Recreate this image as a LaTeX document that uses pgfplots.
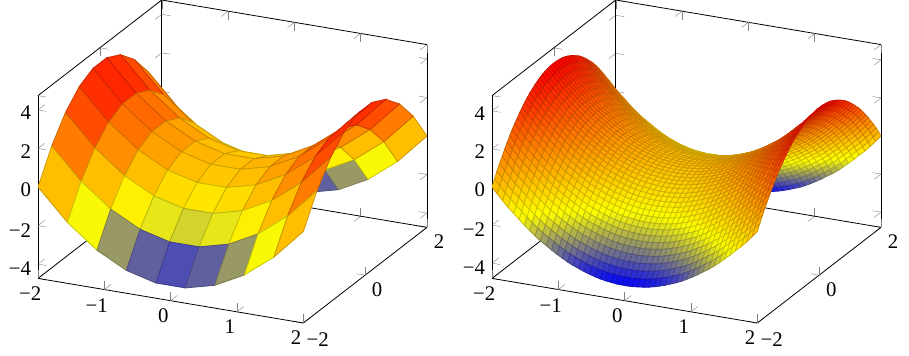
\documentclass[border=0pt]{standalone}
\usepackage{pgfplots}
\usepackage{fontspec}
\setmainfont{Liberation Serif}
\pgfplotsset{compat=1.18}
\pgfplotstableread{
x y z
-2 -2 0
-1.556 -2 -1.58
-1.111 -2 -2.765
-0.667 -2 -3.556
-0.222 -2 -3.951
0.222 -2 -3.951
0.667 -2 -3.556
1.111 -2 -2.765
1.556 -2 -1.58
2 -2 0
-2 -1.556 1.58
-1.556 -1.556 0
-1.111 -1.556 -1.185
-0.667 -1.556 -1.976
-0.222 -1.556 -2.371
0.222 -1.556 -2.371
0.667 -1.556 -1.976
1.111 -1.556 -1.185
1.556 -1.556 0
2 -1.556 1.58
-2 -1.111 2.765
-1.556 -1.111 1.185
-1.111 -1.111 0
-0.667 -1.111 -0.791
-0.222 -1.111 -1.186
0.222 -1.111 -1.186
0.667 -1.111 -0.791
1.111 -1.111 0
1.556 -1.111 1.185
2 -1.111 2.765
-2 -0.667 3.556
-1.556 -0.667 1.976
-1.111 -0.667 0.791
-0.667 -0.667 0
-0.222 -0.667 -0.395
0.222 -0.667 -0.395
0.667 -0.667 0
1.111 -0.667 0.791
1.556 -0.667 1.976
2 -0.667 3.556
-2 -0.222 3.951
-1.556 -0.222 2.371
-1.111 -0.222 1.186
-0.667 -0.222 0.395
-0.222 -0.222 0
0.222 -0.222 0
0.667 -0.222 0.395
1.111 -0.222 1.186
1.556 -0.222 2.371
2 -0.222 3.951
-2 0.222 3.951
-1.556 0.222 2.371
-1.111 0.222 1.186
-0.667 0.222 0.395
-0.222 0.222 0
0.222 0.222 0
0.667 0.222 0.395
1.111 0.222 1.186
1.556 0.222 2.371
2 0.222 3.951
-2 0.667 3.556
-1.556 0.667 1.976
-1.111 0.667 0.791
-0.667 0.667 0
-0.222 0.667 -0.395
0.222 0.667 -0.395
0.667 0.667 0
1.111 0.667 0.791
1.556 0.667 1.976
2 0.667 3.556
-2 1.111 2.765
-1.556 1.111 1.185
-1.111 1.111 0
-0.667 1.111 -0.791
-0.222 1.111 -1.186
0.222 1.111 -1.186
0.667 1.111 -0.791
1.111 1.111 0
1.556 1.111 1.185
2 1.111 2.765
-2 1.556 1.58
-1.556 1.556 0
-1.111 1.556 -1.185
-0.667 1.556 -1.976
-0.222 1.556 -2.371
0.222 1.556 -2.371
0.667 1.556 -1.976
1.111 1.556 -1.185
1.556 1.556 0
2 1.556 1.58
-2 2 0
-1.556 2 -1.58
-1.111 2 -2.765
-0.667 2 -3.556
-0.222 2 -3.951
0.222 2 -3.951
0.667 2 -3.556
1.111 2 -2.765
1.556 2 -1.58
2 2 0
}\coarse
\pgfplotstableread{
x y z
-2 -2 0
-1.92 -2 -0.32
-1.84 -2 -0.63
-1.76 -2 -0.92
-1.67 -2 -1.2
-1.59 -2 -1.47
-1.51 -2 -1.72
-1.43 -2 -1.96
-1.35 -2 -2.19
-1.27 -2 -2.4
-1.18 -2 -2.6
-1.1 -2 -2.79
-1.02 -2 -2.96
-0.94 -2 -3.12
-0.86 -2 -3.27
-0.78 -2 -3.4
-0.69 -2 -3.52
-0.61 -2 -3.63
-0.53 -2 -3.72
-0.45 -2 -3.8
-0.37 -2 -3.87
-0.29 -2 -3.92
-0.2 -2 -3.96
-0.12 -2 -3.99
-0.04 -2 -4
0.04 -2 -4
0.12 -2 -3.99
0.2 -2 -3.96
0.29 -2 -3.92
0.37 -2 -3.87
0.45 -2 -3.8
0.53 -2 -3.72
0.61 -2 -3.63
0.69 -2 -3.52
0.78 -2 -3.4
0.86 -2 -3.27
0.94 -2 -3.12
1.02 -2 -2.96
1.1 -2 -2.79
1.18 -2 -2.6
1.27 -2 -2.4
1.35 -2 -2.19
1.43 -2 -1.96
1.51 -2 -1.72
1.59 -2 -1.47
1.67 -2 -1.2
1.76 -2 -0.92
1.84 -2 -0.63
1.92 -2 -0.32
2 -2 0
-2 -1.92 0.32
-1.92 -1.92 0
-1.84 -1.92 -0.31
-1.76 -1.92 -0.6
-1.67 -1.92 -0.88
-1.59 -1.92 -1.15
-1.51 -1.92 -1.4
-1.43 -1.92 -1.64
-1.35 -1.92 -1.87
-1.27 -1.92 -2.08
-1.18 -1.92 -2.28
-1.1 -1.92 -2.47
-1.02 -1.92 -2.64
-0.94 -1.92 -2.8
-0.86 -1.92 -2.95
-0.78 -1.92 -3.08
-0.69 -1.92 -3.2
-0.61 -1.92 -3.31
-0.53 -1.92 -3.4
-0.45 -1.92 -3.48
-0.37 -1.92 -3.55
-0.29 -1.92 -3.6
-0.2 -1.92 -3.64
-0.12 -1.92 -3.67
-0.04 -1.92 -3.68
0.04 -1.92 -3.68
0.12 -1.92 -3.67
0.2 -1.92 -3.64
0.29 -1.92 -3.6
0.37 -1.92 -3.55
0.45 -1.92 -3.48
0.53 -1.92 -3.4
0.61 -1.92 -3.31
0.69 -1.92 -3.2
0.78 -1.92 -3.08
0.86 -1.92 -2.95
0.94 -1.92 -2.8
1.02 -1.92 -2.64
1.1 -1.92 -2.47
1.18 -1.92 -2.28
1.27 -1.92 -2.08
1.35 -1.92 -1.87
1.43 -1.92 -1.64
1.51 -1.92 -1.4
1.59 -1.92 -1.15
1.67 -1.92 -0.88
1.76 -1.92 -0.6
1.84 -1.92 -0.31
1.92 -1.92 0
2 -1.92 0.32
-2 -1.84 0.63
-1.92 -1.84 0.31
-1.84 -1.84 0
-1.76 -1.84 -0.29
-1.67 -1.84 -0.57
-1.59 -1.84 -0.84
-1.51 -1.84 -1.09
-1.43 -1.84 -1.33
-1.35 -1.84 -1.56
-1.27 -1.84 -1.77
-1.18 -1.84 -1.97
-1.1 -1.84 -2.16
-1.02 -1.84 -2.33
-0.94 -1.84 -2.49
-0.86 -1.84 -2.64
-0.78 -1.84 -2.77
-0.69 -1.84 -2.89
-0.61 -1.84 -3
-0.53 -1.84 -3.09
-0.45 -1.84 -3.17
-0.37 -1.84 -3.24
-0.29 -1.84 -3.29
-0.2 -1.84 -3.33
-0.12 -1.84 -3.36
-0.04 -1.84 -3.37
0.04 -1.84 -3.37
0.12 -1.84 -3.36
0.2 -1.84 -3.33
0.29 -1.84 -3.29
0.37 -1.84 -3.24
0.45 -1.84 -3.17
0.53 -1.84 -3.09
0.61 -1.84 -3
0.69 -1.84 -2.89
0.78 -1.84 -2.77
0.86 -1.84 -2.64
0.94 -1.84 -2.49
1.02 -1.84 -2.33
1.1 -1.84 -2.16
1.18 -1.84 -1.97
1.27 -1.84 -1.77
1.35 -1.84 -1.56
1.43 -1.84 -1.33
1.51 -1.84 -1.09
1.59 -1.84 -0.84
1.67 -1.84 -0.57
1.76 -1.84 -0.29
1.84 -1.84 0
1.92 -1.84 0.31
2 -1.84 0.63
-2 -1.76 0.92
-1.92 -1.76 0.6
-1.84 -1.76 0.29
-1.76 -1.76 0
-1.67 -1.76 -0.28
-1.59 -1.76 -0.55
-1.51 -1.76 -0.8
-1.43 -1.76 -1.04
-1.35 -1.76 -1.27
-1.27 -1.76 -1.48
-1.18 -1.76 -1.68
-1.1 -1.76 -1.87
-1.02 -1.76 -2.04
-0.94 -1.76 -2.2
-0.86 -1.76 -2.35
-0.78 -1.76 -2.48
-0.69 -1.76 -2.6
-0.61 -1.76 -2.71
-0.53 -1.76 -2.8
-0.45 -1.76 -2.88
-0.37 -1.76 -2.95
-0.29 -1.76 -3
-0.2 -1.76 -3.04
-0.12 -1.76 -3.07
-0.04 -1.76 -3.08
0.04 -1.76 -3.08
0.12 -1.76 -3.07
0.2 -1.76 -3.04
0.29 -1.76 -3
0.37 -1.76 -2.95
0.45 -1.76 -2.88
0.53 -1.76 -2.8
0.61 -1.76 -2.71
0.69 -1.76 -2.6
0.78 -1.76 -2.48
0.86 -1.76 -2.35
0.94 -1.76 -2.2
1.02 -1.76 -2.04
1.1 -1.76 -1.87
1.18 -1.76 -1.68
1.27 -1.76 -1.48
1.35 -1.76 -1.27
1.43 -1.76 -1.04
1.51 -1.76 -0.8
1.59 -1.76 -0.55
1.67 -1.76 -0.28
1.76 -1.76 0
1.84 -1.76 0.29
1.92 -1.76 0.6
2 -1.76 0.92
-2 -1.67 1.2
-1.92 -1.67 0.88
-1.84 -1.67 0.57
-1.76 -1.67 0.28
-1.67 -1.67 0
-1.59 -1.67 -0.27
-1.51 -1.67 -0.52
-1.43 -1.67 -0.76
-1.35 -1.67 -0.99
-1.27 -1.67 -1.2
-1.18 -1.67 -1.4
-1.1 -1.67 -1.59
-1.02 -1.67 -1.76
-0.94 -1.67 -1.92
-0.86 -1.67 -2.07
-0.78 -1.67 -2.2
-0.69 -1.67 -2.32
-0.61 -1.67 -2.43
-0.53 -1.67 -2.52
-0.45 -1.67 -2.6
-0.37 -1.67 -2.67
-0.29 -1.67 -2.72
-0.2 -1.67 -2.76
-0.12 -1.67 -2.79
-0.04 -1.67 -2.8
0.04 -1.67 -2.8
0.12 -1.67 -2.79
0.2 -1.67 -2.76
0.29 -1.67 -2.72
0.37 -1.67 -2.67
0.45 -1.67 -2.6
0.53 -1.67 -2.52
0.61 -1.67 -2.43
0.69 -1.67 -2.32
0.78 -1.67 -2.2
0.86 -1.67 -2.07
0.94 -1.67 -1.92
1.02 -1.67 -1.76
1.1 -1.67 -1.59
1.18 -1.67 -1.4
1.27 -1.67 -1.2
1.35 -1.67 -0.99
1.43 -1.67 -0.76
1.51 -1.67 -0.52
1.59 -1.67 -0.27
1.67 -1.67 0
1.76 -1.67 0.28
1.84 -1.67 0.57
1.92 -1.67 0.88
2 -1.67 1.2
-2 -1.59 1.47
-1.92 -1.59 1.15
-1.84 -1.59 0.84
-1.76 -1.59 0.55
-1.67 -1.59 0.27
-1.59 -1.59 0
-1.51 -1.59 -0.25
-1.43 -1.59 -0.49
-1.35 -1.59 -0.72
-1.27 -1.59 -0.93
-1.18 -1.59 -1.13
-1.1 -1.59 -1.32
-1.02 -1.59 -1.49
-0.94 -1.59 -1.65
-0.86 -1.59 -1.8
-0.78 -1.59 -1.93
-0.69 -1.59 -2.05
-0.61 -1.59 -2.16
-0.53 -1.59 -2.25
-0.45 -1.59 -2.33
-0.37 -1.59 -2.4
-0.29 -1.59 -2.45
-0.2 -1.59 -2.49
-0.12 -1.59 -2.52
-0.04 -1.59 -2.53
0.04 -1.59 -2.53
0.12 -1.59 -2.52
0.2 -1.59 -2.49
0.29 -1.59 -2.45
0.37 -1.59 -2.4
0.45 -1.59 -2.33
0.53 -1.59 -2.25
0.61 -1.59 -2.16
0.69 -1.59 -2.05
0.78 -1.59 -1.93
0.86 -1.59 -1.8
0.94 -1.59 -1.65
1.02 -1.59 -1.49
1.1 -1.59 -1.32
1.18 -1.59 -1.13
1.27 -1.59 -0.93
1.35 -1.59 -0.72
1.43 -1.59 -0.49
1.51 -1.59 -0.25
1.59 -1.59 0
1.67 -1.59 0.27
1.76 -1.59 0.55
1.84 -1.59 0.84
1.92 -1.59 1.15
2 -1.59 1.47
-2 -1.51 1.72
-1.92 -1.51 1.4
-1.84 -1.51 1.09
-1.76 -1.51 0.8
-1.67 -1.51 0.52
-1.59 -1.51 0.25
-1.51 -1.51 0
-1.43 -1.51 -0.24
-1.35 -1.51 -0.47
-1.27 -1.51 -0.68
-1.18 -1.51 -0.88
-1.1 -1.51 -1.07
-1.02 -1.51 -1.24
-0.94 -1.51 -1.4
-0.86 -1.51 -1.55
-0.78 -1.51 -1.68
-0.69 -1.51 -1.8
-0.61 -1.51 -1.91
-0.53 -1.51 -2
-0.45 -1.51 -2.08
-0.37 -1.51 -2.15
-0.29 -1.51 -2.2
-0.2 -1.51 -2.24
-0.12 -1.51 -2.27
-0.04 -1.51 -2.28
0.04 -1.51 -2.28
0.12 -1.51 -2.27
0.2 -1.51 -2.24
0.29 -1.51 -2.2
0.37 -1.51 -2.15
0.45 -1.51 -2.08
0.53 -1.51 -2
0.61 -1.51 -1.91
0.69 -1.51 -1.8
0.78 -1.51 -1.68
0.86 -1.51 -1.55
0.94 -1.51 -1.4
1.02 -1.51 -1.24
1.1 -1.51 -1.07
1.18 -1.51 -0.88
1.27 -1.51 -0.68
1.35 -1.51 -0.47
1.43 -1.51 -0.24
1.51 -1.51 0
1.59 -1.51 0.25
1.67 -1.51 0.52
1.76 -1.51 0.8
1.84 -1.51 1.09
1.92 -1.51 1.4
2 -1.51 1.72
-2 -1.43 1.96
-1.92 -1.43 1.64
-1.84 -1.43 1.33
-1.76 -1.43 1.04
-1.67 -1.43 0.76
-1.59 -1.43 0.49
-1.51 -1.43 0.24
-1.43 -1.43 0
-1.35 -1.43 -0.23
-1.27 -1.43 -0.44
-1.18 -1.43 -0.64
-1.1 -1.43 -0.83
-1.02 -1.43 -1
-0.94 -1.43 -1.16
-0.86 -1.43 -1.31
-0.78 -1.43 -1.44
-0.69 -1.43 -1.56
-0.61 -1.43 -1.67
-0.53 -1.43 -1.76
-0.45 -1.43 -1.84
-0.37 -1.43 -1.91
-0.29 -1.43 -1.96
-0.2 -1.43 -2
-0.12 -1.43 -2.03
-0.04 -1.43 -2.04
0.04 -1.43 -2.04
0.12 -1.43 -2.03
0.2 -1.43 -2
0.29 -1.43 -1.96
0.37 -1.43 -1.91
0.45 -1.43 -1.84
0.53 -1.43 -1.76
0.61 -1.43 -1.67
0.69 -1.43 -1.56
0.78 -1.43 -1.44
0.86 -1.43 -1.31
0.94 -1.43 -1.16
1.02 -1.43 -1
1.1 -1.43 -0.83
1.18 -1.43 -0.64
1.27 -1.43 -0.44
1.35 -1.43 -0.23
1.43 -1.43 0
1.51 -1.43 0.24
1.59 -1.43 0.49
1.67 -1.43 0.76
1.76 -1.43 1.04
1.84 -1.43 1.33
1.92 -1.43 1.64
2 -1.43 1.96
-2 -1.35 2.19
-1.92 -1.35 1.87
-1.84 -1.35 1.56
-1.76 -1.35 1.27
-1.67 -1.35 0.99
-1.59 -1.35 0.72
-1.51 -1.35 0.47
-1.43 -1.35 0.23
-1.35 -1.35 0
-1.27 -1.35 -0.21
-1.18 -1.35 -0.41
-1.1 -1.35 -0.6
-1.02 -1.35 -0.77
-0.94 -1.35 -0.93
-0.86 -1.35 -1.08
-0.78 -1.35 -1.21
-0.69 -1.35 -1.33
-0.61 -1.35 -1.44
-0.53 -1.35 -1.53
-0.45 -1.35 -1.61
-0.37 -1.35 -1.68
-0.29 -1.35 -1.73
-0.2 -1.35 -1.77
-0.12 -1.35 -1.8
-0.04 -1.35 -1.81
0.04 -1.35 -1.81
0.12 -1.35 -1.8
0.2 -1.35 -1.77
0.29 -1.35 -1.73
0.37 -1.35 -1.68
0.45 -1.35 -1.61
0.53 -1.35 -1.53
0.61 -1.35 -1.44
0.69 -1.35 -1.33
0.78 -1.35 -1.21
0.86 -1.35 -1.08
0.94 -1.35 -0.93
1.02 -1.35 -0.77
1.1 -1.35 -0.6
1.18 -1.35 -0.41
1.27 -1.35 -0.21
1.35 -1.35 0
1.43 -1.35 0.23
1.51 -1.35 0.47
1.59 -1.35 0.72
1.67 -1.35 0.99
1.76 -1.35 1.27
1.84 -1.35 1.56
1.92 -1.35 1.87
2 -1.35 2.19
-2 -1.27 2.4
-1.92 -1.27 2.08
-1.84 -1.27 1.77
-1.76 -1.27 1.48
-1.67 -1.27 1.2
-1.59 -1.27 0.93
-1.51 -1.27 0.68
-1.43 -1.27 0.44
-1.35 -1.27 0.21
-1.27 -1.27 0
-1.18 -1.27 -0.2
-1.1 -1.27 -0.39
-1.02 -1.27 -0.56
-0.94 -1.27 -0.72
-0.86 -1.27 -0.87
-0.78 -1.27 -1
-0.69 -1.27 -1.12
-0.61 -1.27 -1.23
-0.53 -1.27 -1.32
-0.45 -1.27 -1.4
-0.37 -1.27 -1.47
-0.29 -1.27 -1.52
-0.2 -1.27 -1.56
-0.12 -1.27 -1.59
-0.04 -1.27 -1.6
0.04 -1.27 -1.6
0.12 -1.27 -1.59
0.2 -1.27 -1.56
0.29 -1.27 -1.52
0.37 -1.27 -1.47
0.45 -1.27 -1.4
0.53 -1.27 -1.32
0.61 -1.27 -1.23
0.69 -1.27 -1.12
0.78 -1.27 -1
0.86 -1.27 -0.87
0.94 -1.27 -0.72
1.02 -1.27 -0.56
1.1 -1.27 -0.39
1.18 -1.27 -0.2
1.27 -1.27 0
1.35 -1.27 0.21
1.43 -1.27 0.44
1.51 -1.27 0.68
1.59 -1.27 0.93
1.67 -1.27 1.2
1.76 -1.27 1.48
1.84 -1.27 1.77
1.92 -1.27 2.08
2 -1.27 2.4
-2 -1.18 2.6
-1.92 -1.18 2.28
-1.84 -1.18 1.97
-1.76 -1.18 1.68
-1.67 -1.18 1.4
-1.59 -1.18 1.13
-1.51 -1.18 0.88
-1.43 -1.18 0.64
-1.35 -1.18 0.41
-1.27 -1.18 0.2
-1.18 -1.18 0
-1.1 -1.18 -0.19
-1.02 -1.18 -0.36
-0.94 -1.18 -0.52
-0.86 -1.18 -0.67
-0.78 -1.18 -0.8
-0.69 -1.18 -0.92
-0.61 -1.18 -1.03
-0.53 -1.18 -1.12
-0.45 -1.18 -1.2
-0.37 -1.18 -1.27
-0.29 -1.18 -1.32
-0.2 -1.18 -1.36
-0.12 -1.18 -1.39
-0.04 -1.18 -1.4
0.04 -1.18 -1.4
0.12 -1.18 -1.39
0.2 -1.18 -1.36
0.29 -1.18 -1.32
0.37 -1.18 -1.27
0.45 -1.18 -1.2
0.53 -1.18 -1.12
0.61 -1.18 -1.03
0.69 -1.18 -0.92
0.78 -1.18 -0.8
0.86 -1.18 -0.67
0.94 -1.18 -0.52
1.02 -1.18 -0.36
1.1 -1.18 -0.19
1.18 -1.18 0
1.27 -1.18 0.2
1.35 -1.18 0.41
1.43 -1.18 0.64
1.51 -1.18 0.88
1.59 -1.18 1.13
1.67 -1.18 1.4
1.76 -1.18 1.68
1.84 -1.18 1.97
1.92 -1.18 2.28
2 -1.18 2.6
-2 -1.1 2.79
-1.92 -1.1 2.47
-1.84 -1.1 2.16
-1.76 -1.1 1.87
-1.67 -1.1 1.59
-1.59 -1.1 1.32
-1.51 -1.1 1.07
-1.43 -1.1 0.83
-1.35 -1.1 0.6
-1.27 -1.1 0.39
-1.18 -1.1 0.19
-1.1 -1.1 0
-1.02 -1.1 -0.17
-0.94 -1.1 -0.33
-0.86 -1.1 -0.48
-0.78 -1.1 -0.61
-0.69 -1.1 -0.73
-0.61 -1.1 -0.84
-0.53 -1.1 -0.93
-0.45 -1.1 -1.01
-0.37 -1.1 -1.08
-0.29 -1.1 -1.13
-0.2 -1.1 -1.17
-0.12 -1.1 -1.2
-0.04 -1.1 -1.21
0.04 -1.1 -1.21
0.12 -1.1 -1.2
0.2 -1.1 -1.17
0.29 -1.1 -1.13
0.37 -1.1 -1.08
0.45 -1.1 -1.01
0.53 -1.1 -0.93
0.61 -1.1 -0.84
0.69 -1.1 -0.73
0.78 -1.1 -0.61
0.86 -1.1 -0.48
0.94 -1.1 -0.33
1.02 -1.1 -0.17
1.1 -1.1 0
1.18 -1.1 0.19
1.27 -1.1 0.39
1.35 -1.1 0.6
1.43 -1.1 0.83
1.51 -1.1 1.07
1.59 -1.1 1.32
1.67 -1.1 1.59
1.76 -1.1 1.87
1.84 -1.1 2.16
1.92 -1.1 2.47
2 -1.1 2.79
-2 -1.02 2.96
-1.92 -1.02 2.64
-1.84 -1.02 2.33
-1.76 -1.02 2.04
-1.67 -1.02 1.76
-1.59 -1.02 1.49
-1.51 -1.02 1.24
-1.43 -1.02 1
-1.35 -1.02 0.77
-1.27 -1.02 0.56
-1.18 -1.02 0.36
-1.1 -1.02 0.17
-1.02 -1.02 0
-0.94 -1.02 -0.16
-0.86 -1.02 -0.31
-0.78 -1.02 -0.44
-0.69 -1.02 -0.56
-0.61 -1.02 -0.67
-0.53 -1.02 -0.76
-0.45 -1.02 -0.84
-0.37 -1.02 -0.91
-0.29 -1.02 -0.96
-0.2 -1.02 -1
-0.12 -1.02 -1.03
-0.04 -1.02 -1.04
0.04 -1.02 -1.04
0.12 -1.02 -1.03
0.2 -1.02 -1
0.29 -1.02 -0.96
0.37 -1.02 -0.91
0.45 -1.02 -0.84
0.53 -1.02 -0.76
0.61 -1.02 -0.67
0.69 -1.02 -0.56
0.78 -1.02 -0.44
0.86 -1.02 -0.31
0.94 -1.02 -0.16
1.02 -1.02 0
1.1 -1.02 0.17
1.18 -1.02 0.36
1.27 -1.02 0.56
1.35 -1.02 0.77
1.43 -1.02 1
1.51 -1.02 1.24
1.59 -1.02 1.49
1.67 -1.02 1.76
1.76 -1.02 2.04
1.84 -1.02 2.33
1.92 -1.02 2.64
2 -1.02 2.96
-2 -0.94 3.12
-1.92 -0.94 2.8
-1.84 -0.94 2.49
-1.76 -0.94 2.2
-1.67 -0.94 1.92
-1.59 -0.94 1.65
-1.51 -0.94 1.4
-1.43 -0.94 1.16
-1.35 -0.94 0.93
-1.27 -0.94 0.72
-1.18 -0.94 0.52
-1.1 -0.94 0.33
-1.02 -0.94 0.16
-0.94 -0.94 0
-0.86 -0.94 -0.15
-0.78 -0.94 -0.28
-0.69 -0.94 -0.4
-0.61 -0.94 -0.51
-0.53 -0.94 -0.6
-0.45 -0.94 -0.68
-0.37 -0.94 -0.75
-0.29 -0.94 -0.8
-0.2 -0.94 -0.84
-0.12 -0.94 -0.87
-0.04 -0.94 -0.88
0.04 -0.94 -0.88
0.12 -0.94 -0.87
0.2 -0.94 -0.84
0.29 -0.94 -0.8
0.37 -0.94 -0.75
0.45 -0.94 -0.68
0.53 -0.94 -0.6
0.61 -0.94 -0.51
0.69 -0.94 -0.4
0.78 -0.94 -0.28
0.86 -0.94 -0.15
0.94 -0.94 0
1.02 -0.94 0.16
1.1 -0.94 0.33
1.18 -0.94 0.52
1.27 -0.94 0.72
1.35 -0.94 0.93
1.43 -0.94 1.16
1.51 -0.94 1.4
1.59 -0.94 1.65
1.67 -0.94 1.92
1.76 -0.94 2.2
1.84 -0.94 2.49
1.92 -0.94 2.8
2 -0.94 3.12
-2 -0.86 3.27
-1.92 -0.86 2.95
-1.84 -0.86 2.64
-1.76 -0.86 2.35
-1.67 -0.86 2.07
-1.59 -0.86 1.8
-1.51 -0.86 1.55
-1.43 -0.86 1.31
-1.35 -0.86 1.08
-1.27 -0.86 0.87
-1.18 -0.86 0.67
-1.1 -0.86 0.48
-1.02 -0.86 0.31
-0.94 -0.86 0.15
-0.86 -0.86 0
-0.78 -0.86 -0.13
-0.69 -0.86 -0.25
-0.61 -0.86 -0.36
-0.53 -0.86 -0.45
-0.45 -0.86 -0.53
-0.37 -0.86 -0.6
-0.29 -0.86 -0.65
-0.2 -0.86 -0.69
-0.12 -0.86 -0.72
-0.04 -0.86 -0.73
0.04 -0.86 -0.73
0.12 -0.86 -0.72
0.2 -0.86 -0.69
0.29 -0.86 -0.65
0.37 -0.86 -0.6
0.45 -0.86 -0.53
0.53 -0.86 -0.45
0.61 -0.86 -0.36
0.69 -0.86 -0.25
0.78 -0.86 -0.13
0.86 -0.86 0
0.94 -0.86 0.15
1.02 -0.86 0.31
1.1 -0.86 0.48
1.18 -0.86 0.67
1.27 -0.86 0.87
1.35 -0.86 1.08
1.43 -0.86 1.31
1.51 -0.86 1.55
1.59 -0.86 1.8
1.67 -0.86 2.07
1.76 -0.86 2.35
1.84 -0.86 2.64
1.92 -0.86 2.95
2 -0.86 3.27
-2 -0.78 3.4
-1.92 -0.78 3.08
-1.84 -0.78 2.77
-1.76 -0.78 2.48
-1.67 -0.78 2.2
-1.59 -0.78 1.93
-1.51 -0.78 1.68
-1.43 -0.78 1.44
-1.35 -0.78 1.21
-1.27 -0.78 1
-1.18 -0.78 0.8
-1.1 -0.78 0.61
-1.02 -0.78 0.44
-0.94 -0.78 0.28
-0.86 -0.78 0.13
-0.78 -0.78 0
-0.69 -0.78 -0.12
-0.61 -0.78 -0.23
-0.53 -0.78 -0.32
-0.45 -0.78 -0.4
-0.37 -0.78 -0.47
-0.29 -0.78 -0.52
-0.2 -0.78 -0.56
-0.12 -0.78 -0.59
-0.04 -0.78 -0.6
0.04 -0.78 -0.6
0.12 -0.78 -0.59
0.2 -0.78 -0.56
0.29 -0.78 -0.52
0.37 -0.78 -0.47
0.45 -0.78 -0.4
0.53 -0.78 -0.32
0.61 -0.78 -0.23
0.69 -0.78 -0.12
0.78 -0.78 0
0.86 -0.78 0.13
0.94 -0.78 0.28
1.02 -0.78 0.44
1.1 -0.78 0.61
1.18 -0.78 0.8
1.27 -0.78 1
1.35 -0.78 1.21
1.43 -0.78 1.44
1.51 -0.78 1.68
1.59 -0.78 1.93
1.67 -0.78 2.2
1.76 -0.78 2.48
1.84 -0.78 2.77
1.92 -0.78 3.08
2 -0.78 3.4
-2 -0.69 3.52
-1.92 -0.69 3.2
-1.84 -0.69 2.89
-1.76 -0.69 2.6
-1.67 -0.69 2.32
-1.59 -0.69 2.05
-1.51 -0.69 1.8
-1.43 -0.69 1.56
-1.35 -0.69 1.33
-1.27 -0.69 1.12
-1.18 -0.69 0.92
-1.1 -0.69 0.73
-1.02 -0.69 0.56
-0.94 -0.69 0.4
-0.86 -0.69 0.25
-0.78 -0.69 0.12
-0.69 -0.69 0
-0.61 -0.69 -0.11
-0.53 -0.69 -0.2
-0.45 -0.69 -0.28
-0.37 -0.69 -0.35
-0.29 -0.69 -0.4
-0.2 -0.69 -0.44
-0.12 -0.69 -0.47
-0.04 -0.69 -0.48
0.04 -0.69 -0.48
0.12 -0.69 -0.47
0.2 -0.69 -0.44
0.29 -0.69 -0.4
0.37 -0.69 -0.35
0.45 -0.69 -0.28
0.53 -0.69 -0.2
0.61 -0.69 -0.11
0.69 -0.69 0
0.78 -0.69 0.12
0.86 -0.69 0.25
0.94 -0.69 0.4
1.02 -0.69 0.56
1.1 -0.69 0.73
1.18 -0.69 0.92
1.27 -0.69 1.12
1.35 -0.69 1.33
1.43 -0.69 1.56
1.51 -0.69 1.8
1.59 -0.69 2.05
1.67 -0.69 2.32
1.76 -0.69 2.6
1.84 -0.69 2.89
1.92 -0.69 3.2
2 -0.69 3.52
-2 -0.61 3.63
-1.92 -0.61 3.31
-1.84 -0.61 3
-1.76 -0.61 2.71
-1.67 -0.61 2.43
-1.59 -0.61 2.16
-1.51 -0.61 1.91
-1.43 -0.61 1.67
-1.35 -0.61 1.44
-1.27 -0.61 1.23
-1.18 -0.61 1.03
-1.1 -0.61 0.84
-1.02 -0.61 0.67
-0.94 -0.61 0.51
-0.86 -0.61 0.36
-0.78 -0.61 0.23
-0.69 -0.61 0.11
-0.61 -0.61 0
-0.53 -0.61 -0.09
-0.45 -0.61 -0.17
-0.37 -0.61 -0.24
-0.29 -0.61 -0.29
-0.2 -0.61 -0.33
-0.12 -0.61 -0.36
-0.04 -0.61 -0.37
0.04 -0.61 -0.37
0.12 -0.61 -0.36
0.2 -0.61 -0.33
0.29 -0.61 -0.29
0.37 -0.61 -0.24
0.45 -0.61 -0.17
0.53 -0.61 -0.09
0.61 -0.61 0
0.69 -0.61 0.11
0.78 -0.61 0.23
0.86 -0.61 0.36
0.94 -0.61 0.51
1.02 -0.61 0.67
1.1 -0.61 0.84
1.18 -0.61 1.03
1.27 -0.61 1.23
1.35 -0.61 1.44
1.43 -0.61 1.67
1.51 -0.61 1.91
1.59 -0.61 2.16
1.67 -0.61 2.43
1.76 -0.61 2.71
1.84 -0.61 3
1.92 -0.61 3.31
2 -0.61 3.63
-2 -0.53 3.72
-1.92 -0.53 3.4
-1.84 -0.53 3.09
-1.76 -0.53 2.8
-1.67 -0.53 2.52
-1.59 -0.53 2.25
-1.51 -0.53 2
-1.43 -0.53 1.76
-1.35 -0.53 1.53
-1.27 -0.53 1.32
-1.18 -0.53 1.12
-1.1 -0.53 0.93
-1.02 -0.53 0.76
-0.94 -0.53 0.6
-0.86 -0.53 0.45
-0.78 -0.53 0.32
-0.69 -0.53 0.2
-0.61 -0.53 0.09
-0.53 -0.53 0
-0.45 -0.53 -0.08
-0.37 -0.53 -0.15
-0.29 -0.53 -0.2
-0.2 -0.53 -0.24
-0.12 -0.53 -0.27
-0.04 -0.53 -0.28
0.04 -0.53 -0.28
0.12 -0.53 -0.27
0.2 -0.53 -0.24
0.29 -0.53 -0.2
0.37 -0.53 -0.15
0.45 -0.53 -0.08
0.53 -0.53 0
0.61 -0.53 0.09
0.69 -0.53 0.2
0.78 -0.53 0.32
0.86 -0.53 0.45
0.94 -0.53 0.6
1.02 -0.53 0.76
1.1 -0.53 0.93
1.18 -0.53 1.12
1.27 -0.53 1.32
1.35 -0.53 1.53
1.43 -0.53 1.76
1.51 -0.53 2
1.59 -0.53 2.25
1.67 -0.53 2.52
1.76 -0.53 2.8
1.84 -0.53 3.09
1.92 -0.53 3.4
2 -0.53 3.72
-2 -0.45 3.8
-1.92 -0.45 3.48
-1.84 -0.45 3.17
-1.76 -0.45 2.88
-1.67 -0.45 2.6
-1.59 -0.45 2.33
-1.51 -0.45 2.08
-1.43 -0.45 1.84
-1.35 -0.45 1.61
-1.27 -0.45 1.4
-1.18 -0.45 1.2
-1.1 -0.45 1.01
-1.02 -0.45 0.84
-0.94 -0.45 0.68
-0.86 -0.45 0.53
-0.78 -0.45 0.4
-0.69 -0.45 0.28
-0.61 -0.45 0.17
-0.53 -0.45 0.08
-0.45 -0.45 0
-0.37 -0.45 -0.07
-0.29 -0.45 -0.12
-0.2 -0.45 -0.16
-0.12 -0.45 -0.19
-0.04 -0.45 -0.2
0.04 -0.45 -0.2
0.12 -0.45 -0.19
0.2 -0.45 -0.16
0.29 -0.45 -0.12
0.37 -0.45 -0.07
0.45 -0.45 0
0.53 -0.45 0.08
0.61 -0.45 0.17
0.69 -0.45 0.28
0.78 -0.45 0.4
0.86 -0.45 0.53
0.94 -0.45 0.68
1.02 -0.45 0.84
1.1 -0.45 1.01
1.18 -0.45 1.2
1.27 -0.45 1.4
1.35 -0.45 1.61
1.43 -0.45 1.84
1.51 -0.45 2.08
1.59 -0.45 2.33
1.67 -0.45 2.6
1.76 -0.45 2.88
1.84 -0.45 3.17
1.92 -0.45 3.48
2 -0.45 3.8
-2 -0.37 3.87
-1.92 -0.37 3.55
-1.84 -0.37 3.24
-1.76 -0.37 2.95
-1.67 -0.37 2.67
-1.59 -0.37 2.4
-1.51 -0.37 2.15
-1.43 -0.37 1.91
-1.35 -0.37 1.68
-1.27 -0.37 1.47
-1.18 -0.37 1.27
-1.1 -0.37 1.08
-1.02 -0.37 0.91
-0.94 -0.37 0.75
-0.86 -0.37 0.6
-0.78 -0.37 0.47
-0.69 -0.37 0.35
-0.61 -0.37 0.24
-0.53 -0.37 0.15
-0.45 -0.37 0.07
-0.37 -0.37 0
-0.29 -0.37 -0.05
-0.2 -0.37 -0.09
-0.12 -0.37 -0.12
-0.04 -0.37 -0.13
0.04 -0.37 -0.13
0.12 -0.37 -0.12
0.2 -0.37 -0.09
0.29 -0.37 -0.05
0.37 -0.37 0
0.45 -0.37 0.07
0.53 -0.37 0.15
0.61 -0.37 0.24
0.69 -0.37 0.35
0.78 -0.37 0.47
0.86 -0.37 0.6
0.94 -0.37 0.75
1.02 -0.37 0.91
1.1 -0.37 1.08
1.18 -0.37 1.27
1.27 -0.37 1.47
1.35 -0.37 1.68
1.43 -0.37 1.91
1.51 -0.37 2.15
1.59 -0.37 2.4
1.67 -0.37 2.67
1.76 -0.37 2.95
1.84 -0.37 3.24
1.92 -0.37 3.55
2 -0.37 3.87
-2 -0.29 3.92
-1.92 -0.29 3.6
-1.84 -0.29 3.29
-1.76 -0.29 3
-1.67 -0.29 2.72
-1.59 -0.29 2.45
-1.51 -0.29 2.2
-1.43 -0.29 1.96
-1.35 -0.29 1.73
-1.27 -0.29 1.52
-1.18 -0.29 1.32
-1.1 -0.29 1.13
-1.02 -0.29 0.96
-0.94 -0.29 0.8
-0.86 -0.29 0.65
-0.78 -0.29 0.52
-0.69 -0.29 0.4
-0.61 -0.29 0.29
-0.53 -0.29 0.2
-0.45 -0.29 0.12
-0.37 -0.29 0.05
-0.29 -0.29 0
-0.2 -0.29 -0.04
-0.12 -0.29 -0.07
-0.04 -0.29 -0.08
0.04 -0.29 -0.08
0.12 -0.29 -0.07
0.2 -0.29 -0.04
0.29 -0.29 0
0.37 -0.29 0.05
0.45 -0.29 0.12
0.53 -0.29 0.2
0.61 -0.29 0.29
0.69 -0.29 0.4
0.78 -0.29 0.52
0.86 -0.29 0.65
0.94 -0.29 0.8
1.02 -0.29 0.96
1.1 -0.29 1.13
1.18 -0.29 1.32
1.27 -0.29 1.52
1.35 -0.29 1.73
1.43 -0.29 1.96
1.51 -0.29 2.2
1.59 -0.29 2.45
1.67 -0.29 2.72
1.76 -0.29 3
1.84 -0.29 3.29
1.92 -0.29 3.6
2 -0.29 3.92
-2 -0.2 3.96
-1.92 -0.2 3.64
-1.84 -0.2 3.33
-1.76 -0.2 3.04
-1.67 -0.2 2.76
-1.59 -0.2 2.49
-1.51 -0.2 2.24
-1.43 -0.2 2
-1.35 -0.2 1.77
-1.27 -0.2 1.56
-1.18 -0.2 1.36
-1.1 -0.2 1.17
-1.02 -0.2 1
-0.94 -0.2 0.84
-0.86 -0.2 0.69
-0.78 -0.2 0.56
-0.69 -0.2 0.44
-0.61 -0.2 0.33
-0.53 -0.2 0.24
-0.45 -0.2 0.16
-0.37 -0.2 0.09
-0.29 -0.2 0.04
-0.2 -0.2 0
-0.12 -0.2 -0.03
-0.04 -0.2 -0.04
0.04 -0.2 -0.04
0.12 -0.2 -0.03
0.2 -0.2 0
0.29 -0.2 0.04
0.37 -0.2 0.09
0.45 -0.2 0.16
0.53 -0.2 0.24
0.61 -0.2 0.33
0.69 -0.2 0.44
0.78 -0.2 0.56
0.86 -0.2 0.69
0.94 -0.2 0.84
1.02 -0.2 1
1.1 -0.2 1.17
1.18 -0.2 1.36
1.27 -0.2 1.56
1.35 -0.2 1.77
1.43 -0.2 2
1.51 -0.2 2.24
1.59 -0.2 2.49
1.67 -0.2 2.76
1.76 -0.2 3.04
1.84 -0.2 3.33
1.92 -0.2 3.64
2 -0.2 3.96
-2 -0.12 3.99
-1.92 -0.12 3.67
-1.84 -0.12 3.36
-1.76 -0.12 3.07
-1.67 -0.12 2.79
-1.59 -0.12 2.52
-1.51 -0.12 2.27
-1.43 -0.12 2.03
-1.35 -0.12 1.8
-1.27 -0.12 1.59
-1.18 -0.12 1.39
-1.1 -0.12 1.2
-1.02 -0.12 1.03
-0.94 -0.12 0.87
-0.86 -0.12 0.72
-0.78 -0.12 0.59
-0.69 -0.12 0.47
-0.61 -0.12 0.36
-0.53 -0.12 0.27
-0.45 -0.12 0.19
-0.37 -0.12 0.12
-0.29 -0.12 0.07
-0.2 -0.12 0.03
-0.12 -0.12 0
-0.04 -0.12 -0.01
0.04 -0.12 -0.01
0.12 -0.12 0
0.2 -0.12 0.03
0.29 -0.12 0.07
0.37 -0.12 0.12
0.45 -0.12 0.19
0.53 -0.12 0.27
0.61 -0.12 0.36
0.69 -0.12 0.47
0.78 -0.12 0.59
0.86 -0.12 0.72
0.94 -0.12 0.87
1.02 -0.12 1.03
1.1 -0.12 1.2
1.18 -0.12 1.39
1.27 -0.12 1.59
1.35 -0.12 1.8
1.43 -0.12 2.03
1.51 -0.12 2.27
1.59 -0.12 2.52
1.67 -0.12 2.79
1.76 -0.12 3.07
1.84 -0.12 3.36
1.92 -0.12 3.67
2 -0.12 3.99
-2 -0.04 4
-1.92 -0.04 3.68
-1.84 -0.04 3.37
-1.76 -0.04 3.08
-1.67 -0.04 2.8
-1.59 -0.04 2.53
-1.51 -0.04 2.28
-1.43 -0.04 2.04
-1.35 -0.04 1.81
-1.27 -0.04 1.6
-1.18 -0.04 1.4
-1.1 -0.04 1.21
-1.02 -0.04 1.04
-0.94 -0.04 0.88
-0.86 -0.04 0.73
-0.78 -0.04 0.6
-0.69 -0.04 0.48
-0.61 -0.04 0.37
-0.53 -0.04 0.28
-0.45 -0.04 0.2
-0.37 -0.04 0.13
-0.29 -0.04 0.08
-0.2 -0.04 0.04
-0.12 -0.04 0.01
-0.04 -0.04 0
0.04 -0.04 0
0.12 -0.04 0.01
0.2 -0.04 0.04
0.29 -0.04 0.08
0.37 -0.04 0.13
0.45 -0.04 0.2
0.53 -0.04 0.28
0.61 -0.04 0.37
0.69 -0.04 0.48
0.78 -0.04 0.6
0.86 -0.04 0.73
0.94 -0.04 0.88
1.02 -0.04 1.04
1.1 -0.04 1.21
1.18 -0.04 1.4
1.27 -0.04 1.6
1.35 -0.04 1.81
1.43 -0.04 2.04
1.51 -0.04 2.28
1.59 -0.04 2.53
1.67 -0.04 2.8
1.76 -0.04 3.08
1.84 -0.04 3.37
1.92 -0.04 3.68
2 -0.04 4
-2 0.04 4
-1.92 0.04 3.68
-1.84 0.04 3.37
-1.76 0.04 3.08
-1.67 0.04 2.8
-1.59 0.04 2.53
-1.51 0.04 2.28
-1.43 0.04 2.04
-1.35 0.04 1.81
-1.27 0.04 1.6
-1.18 0.04 1.4
-1.1 0.04 1.21
-1.02 0.04 1.04
-0.94 0.04 0.88
-0.86 0.04 0.73
-0.78 0.04 0.6
-0.69 0.04 0.48
-0.61 0.04 0.37
-0.53 0.04 0.28
-0.45 0.04 0.2
-0.37 0.04 0.13
-0.29 0.04 0.08
-0.2 0.04 0.04
-0.12 0.04 0.01
-0.04 0.04 0
0.04 0.04 0
0.12 0.04 0.01
0.2 0.04 0.04
0.29 0.04 0.08
0.37 0.04 0.13
0.45 0.04 0.2
0.53 0.04 0.28
0.61 0.04 0.37
0.69 0.04 0.48
0.78 0.04 0.6
0.86 0.04 0.73
0.94 0.04 0.88
1.02 0.04 1.04
1.1 0.04 1.21
1.18 0.04 1.4
1.27 0.04 1.6
1.35 0.04 1.81
1.43 0.04 2.04
1.51 0.04 2.28
1.59 0.04 2.53
1.67 0.04 2.8
1.76 0.04 3.08
1.84 0.04 3.37
1.92 0.04 3.68
2 0.04 4
-2 0.12 3.99
-1.92 0.12 3.67
-1.84 0.12 3.36
-1.76 0.12 3.07
-1.67 0.12 2.79
-1.59 0.12 2.52
-1.51 0.12 2.27
-1.43 0.12 2.03
-1.35 0.12 1.8
-1.27 0.12 1.59
-1.18 0.12 1.39
-1.1 0.12 1.2
-1.02 0.12 1.03
-0.94 0.12 0.87
-0.86 0.12 0.72
-0.78 0.12 0.59
-0.69 0.12 0.47
-0.61 0.12 0.36
-0.53 0.12 0.27
-0.45 0.12 0.19
-0.37 0.12 0.12
-0.29 0.12 0.07
-0.2 0.12 0.03
-0.12 0.12 0
-0.04 0.12 -0.01
0.04 0.12 -0.01
0.12 0.12 0
0.2 0.12 0.03
0.29 0.12 0.07
0.37 0.12 0.12
0.45 0.12 0.19
0.53 0.12 0.27
0.61 0.12 0.36
0.69 0.12 0.47
0.78 0.12 0.59
0.86 0.12 0.72
0.94 0.12 0.87
1.02 0.12 1.03
1.1 0.12 1.2
1.18 0.12 1.39
1.27 0.12 1.59
1.35 0.12 1.8
1.43 0.12 2.03
1.51 0.12 2.27
1.59 0.12 2.52
1.67 0.12 2.79
1.76 0.12 3.07
1.84 0.12 3.36
1.92 0.12 3.67
2 0.12 3.99
-2 0.2 3.96
-1.92 0.2 3.64
-1.84 0.2 3.33
-1.76 0.2 3.04
-1.67 0.2 2.76
-1.59 0.2 2.49
-1.51 0.2 2.24
-1.43 0.2 2
-1.35 0.2 1.77
-1.27 0.2 1.56
-1.18 0.2 1.36
-1.1 0.2 1.17
-1.02 0.2 1
-0.94 0.2 0.84
-0.86 0.2 0.69
-0.78 0.2 0.56
-0.69 0.2 0.44
-0.61 0.2 0.33
-0.53 0.2 0.24
-0.45 0.2 0.16
-0.37 0.2 0.09
-0.29 0.2 0.04
-0.2 0.2 0
-0.12 0.2 -0.03
-0.04 0.2 -0.04
0.04 0.2 -0.04
0.12 0.2 -0.03
0.2 0.2 0
0.29 0.2 0.04
0.37 0.2 0.09
0.45 0.2 0.16
0.53 0.2 0.24
0.61 0.2 0.33
0.69 0.2 0.44
0.78 0.2 0.56
0.86 0.2 0.69
0.94 0.2 0.84
1.02 0.2 1
1.1 0.2 1.17
1.18 0.2 1.36
1.27 0.2 1.56
1.35 0.2 1.77
1.43 0.2 2
1.51 0.2 2.24
1.59 0.2 2.49
1.67 0.2 2.76
1.76 0.2 3.04
1.84 0.2 3.33
1.92 0.2 3.64
2 0.2 3.96
-2 0.29 3.92
-1.92 0.29 3.6
-1.84 0.29 3.29
-1.76 0.29 3
-1.67 0.29 2.72
-1.59 0.29 2.45
-1.51 0.29 2.2
-1.43 0.29 1.96
-1.35 0.29 1.73
-1.27 0.29 1.52
-1.18 0.29 1.32
-1.1 0.29 1.13
-1.02 0.29 0.96
-0.94 0.29 0.8
-0.86 0.29 0.65
-0.78 0.29 0.52
-0.69 0.29 0.4
-0.61 0.29 0.29
-0.53 0.29 0.2
-0.45 0.29 0.12
-0.37 0.29 0.05
-0.29 0.29 0
-0.2 0.29 -0.04
-0.12 0.29 -0.07
-0.04 0.29 -0.08
0.04 0.29 -0.08
0.12 0.29 -0.07
0.2 0.29 -0.04
0.29 0.29 0
0.37 0.29 0.05
0.45 0.29 0.12
0.53 0.29 0.2
0.61 0.29 0.29
0.69 0.29 0.4
0.78 0.29 0.52
0.86 0.29 0.65
0.94 0.29 0.8
1.02 0.29 0.96
1.1 0.29 1.13
1.18 0.29 1.32
1.27 0.29 1.52
1.35 0.29 1.73
1.43 0.29 1.96
1.51 0.29 2.2
1.59 0.29 2.45
1.67 0.29 2.72
1.76 0.29 3
1.84 0.29 3.29
1.92 0.29 3.6
2 0.29 3.92
-2 0.37 3.87
-1.92 0.37 3.55
-1.84 0.37 3.24
-1.76 0.37 2.95
-1.67 0.37 2.67
-1.59 0.37 2.4
-1.51 0.37 2.15
-1.43 0.37 1.91
-1.35 0.37 1.68
-1.27 0.37 1.47
-1.18 0.37 1.27
-1.1 0.37 1.08
-1.02 0.37 0.91
-0.94 0.37 0.75
-0.86 0.37 0.6
-0.78 0.37 0.47
-0.69 0.37 0.35
-0.61 0.37 0.24
-0.53 0.37 0.15
-0.45 0.37 0.07
-0.37 0.37 0
-0.29 0.37 -0.05
-0.2 0.37 -0.09
-0.12 0.37 -0.12
-0.04 0.37 -0.13
0.04 0.37 -0.13
0.12 0.37 -0.12
0.2 0.37 -0.09
0.29 0.37 -0.05
0.37 0.37 0
0.45 0.37 0.07
0.53 0.37 0.15
0.61 0.37 0.24
0.69 0.37 0.35
0.78 0.37 0.47
0.86 0.37 0.6
0.94 0.37 0.75
1.02 0.37 0.91
1.1 0.37 1.08
1.18 0.37 1.27
1.27 0.37 1.47
1.35 0.37 1.68
1.43 0.37 1.91
1.51 0.37 2.15
1.59 0.37 2.4
1.67 0.37 2.67
1.76 0.37 2.95
1.84 0.37 3.24
1.92 0.37 3.55
2 0.37 3.87
-2 0.45 3.8
-1.92 0.45 3.48
-1.84 0.45 3.17
-1.76 0.45 2.88
-1.67 0.45 2.6
-1.59 0.45 2.33
-1.51 0.45 2.08
-1.43 0.45 1.84
-1.35 0.45 1.61
-1.27 0.45 1.4
-1.18 0.45 1.2
-1.1 0.45 1.01
-1.02 0.45 0.84
-0.94 0.45 0.68
-0.86 0.45 0.53
-0.78 0.45 0.4
-0.69 0.45 0.28
-0.61 0.45 0.17
-0.53 0.45 0.08
-0.45 0.45 0
-0.37 0.45 -0.07
-0.29 0.45 -0.12
-0.2 0.45 -0.16
-0.12 0.45 -0.19
-0.04 0.45 -0.2
0.04 0.45 -0.2
0.12 0.45 -0.19
0.2 0.45 -0.16
0.29 0.45 -0.12
0.37 0.45 -0.07
0.45 0.45 0
0.53 0.45 0.08
0.61 0.45 0.17
0.69 0.45 0.28
0.78 0.45 0.4
0.86 0.45 0.53
0.94 0.45 0.68
1.02 0.45 0.84
1.1 0.45 1.01
1.18 0.45 1.2
1.27 0.45 1.4
1.35 0.45 1.61
1.43 0.45 1.84
1.51 0.45 2.08
1.59 0.45 2.33
1.67 0.45 2.6
1.76 0.45 2.88
1.84 0.45 3.17
1.92 0.45 3.48
2 0.45 3.8
-2 0.53 3.72
-1.92 0.53 3.4
-1.84 0.53 3.09
-1.76 0.53 2.8
-1.67 0.53 2.52
-1.59 0.53 2.25
-1.51 0.53 2
-1.43 0.53 1.76
-1.35 0.53 1.53
-1.27 0.53 1.32
-1.18 0.53 1.12
-1.1 0.53 0.93
-1.02 0.53 0.76
-0.94 0.53 0.6
-0.86 0.53 0.45
-0.78 0.53 0.32
-0.69 0.53 0.2
-0.61 0.53 0.09
-0.53 0.53 0
-0.45 0.53 -0.08
-0.37 0.53 -0.15
-0.29 0.53 -0.2
-0.2 0.53 -0.24
-0.12 0.53 -0.27
-0.04 0.53 -0.28
0.04 0.53 -0.28
0.12 0.53 -0.27
0.2 0.53 -0.24
0.29 0.53 -0.2
0.37 0.53 -0.15
0.45 0.53 -0.08
0.53 0.53 0
0.61 0.53 0.09
0.69 0.53 0.2
0.78 0.53 0.32
0.86 0.53 0.45
0.94 0.53 0.6
1.02 0.53 0.76
1.1 0.53 0.93
1.18 0.53 1.12
1.27 0.53 1.32
1.35 0.53 1.53
1.43 0.53 1.76
1.51 0.53 2
1.59 0.53 2.25
1.67 0.53 2.52
1.76 0.53 2.8
1.84 0.53 3.09
1.92 0.53 3.4
2 0.53 3.72
-2 0.61 3.63
-1.92 0.61 3.31
-1.84 0.61 3
-1.76 0.61 2.71
-1.67 0.61 2.43
-1.59 0.61 2.16
-1.51 0.61 1.91
-1.43 0.61 1.67
-1.35 0.61 1.44
-1.27 0.61 1.23
-1.18 0.61 1.03
-1.1 0.61 0.84
-1.02 0.61 0.67
-0.94 0.61 0.51
-0.86 0.61 0.36
-0.78 0.61 0.23
-0.69 0.61 0.11
-0.61 0.61 0
-0.53 0.61 -0.09
-0.45 0.61 -0.17
-0.37 0.61 -0.24
-0.29 0.61 -0.29
-0.2 0.61 -0.33
-0.12 0.61 -0.36
-0.04 0.61 -0.37
0.04 0.61 -0.37
0.12 0.61 -0.36
0.2 0.61 -0.33
0.29 0.61 -0.29
0.37 0.61 -0.24
0.45 0.61 -0.17
0.53 0.61 -0.09
0.61 0.61 0
0.69 0.61 0.11
0.78 0.61 0.23
0.86 0.61 0.36
0.94 0.61 0.51
1.02 0.61 0.67
1.1 0.61 0.84
1.18 0.61 1.03
1.27 0.61 1.23
1.35 0.61 1.44
1.43 0.61 1.67
1.51 0.61 1.91
1.59 0.61 2.16
1.67 0.61 2.43
1.76 0.61 2.71
1.84 0.61 3
1.92 0.61 3.31
2 0.61 3.63
-2 0.69 3.52
-1.92 0.69 3.2
-1.84 0.69 2.89
-1.76 0.69 2.6
-1.67 0.69 2.32
-1.59 0.69 2.05
-1.51 0.69 1.8
-1.43 0.69 1.56
-1.35 0.69 1.33
-1.27 0.69 1.12
-1.18 0.69 0.92
-1.1 0.69 0.73
-1.02 0.69 0.56
-0.94 0.69 0.4
-0.86 0.69 0.25
-0.78 0.69 0.12
-0.69 0.69 0
-0.61 0.69 -0.11
-0.53 0.69 -0.2
-0.45 0.69 -0.28
-0.37 0.69 -0.35
-0.29 0.69 -0.4
-0.2 0.69 -0.44
-0.12 0.69 -0.47
-0.04 0.69 -0.48
0.04 0.69 -0.48
0.12 0.69 -0.47
0.2 0.69 -0.44
0.29 0.69 -0.4
0.37 0.69 -0.35
0.45 0.69 -0.28
0.53 0.69 -0.2
0.61 0.69 -0.11
0.69 0.69 0
0.78 0.69 0.12
0.86 0.69 0.25
0.94 0.69 0.4
1.02 0.69 0.56
1.1 0.69 0.73
1.18 0.69 0.92
1.27 0.69 1.12
1.35 0.69 1.33
1.43 0.69 1.56
1.51 0.69 1.8
1.59 0.69 2.05
1.67 0.69 2.32
1.76 0.69 2.6
1.84 0.69 2.89
1.92 0.69 3.2
2 0.69 3.52
-2 0.78 3.4
-1.92 0.78 3.08
-1.84 0.78 2.77
-1.76 0.78 2.48
-1.67 0.78 2.2
-1.59 0.78 1.93
-1.51 0.78 1.68
-1.43 0.78 1.44
-1.35 0.78 1.21
-1.27 0.78 1
-1.18 0.78 0.8
-1.1 0.78 0.61
-1.02 0.78 0.44
-0.94 0.78 0.28
-0.86 0.78 0.13
-0.78 0.78 0
-0.69 0.78 -0.12
-0.61 0.78 -0.23
-0.53 0.78 -0.32
-0.45 0.78 -0.4
-0.37 0.78 -0.47
-0.29 0.78 -0.52
-0.2 0.78 -0.56
-0.12 0.78 -0.59
-0.04 0.78 -0.6
0.04 0.78 -0.6
0.12 0.78 -0.59
0.2 0.78 -0.56
0.29 0.78 -0.52
0.37 0.78 -0.47
0.45 0.78 -0.4
0.53 0.78 -0.32
0.61 0.78 -0.23
0.69 0.78 -0.12
0.78 0.78 0
0.86 0.78 0.13
0.94 0.78 0.28
1.02 0.78 0.44
1.1 0.78 0.61
1.18 0.78 0.8
1.27 0.78 1
1.35 0.78 1.21
1.43 0.78 1.44
1.51 0.78 1.68
1.59 0.78 1.93
1.67 0.78 2.2
1.76 0.78 2.48
1.84 0.78 2.77
1.92 0.78 3.08
2 0.78 3.4
-2 0.86 3.27
-1.92 0.86 2.95
-1.84 0.86 2.64
-1.76 0.86 2.35
-1.67 0.86 2.07
-1.59 0.86 1.8
-1.51 0.86 1.55
-1.43 0.86 1.31
-1.35 0.86 1.08
-1.27 0.86 0.87
-1.18 0.86 0.67
-1.1 0.86 0.48
-1.02 0.86 0.31
-0.94 0.86 0.15
-0.86 0.86 0
-0.78 0.86 -0.13
-0.69 0.86 -0.25
-0.61 0.86 -0.36
-0.53 0.86 -0.45
-0.45 0.86 -0.53
-0.37 0.86 -0.6
-0.29 0.86 -0.65
-0.2 0.86 -0.69
-0.12 0.86 -0.72
-0.04 0.86 -0.73
0.04 0.86 -0.73
0.12 0.86 -0.72
0.2 0.86 -0.69
0.29 0.86 -0.65
0.37 0.86 -0.6
0.45 0.86 -0.53
0.53 0.86 -0.45
0.61 0.86 -0.36
0.69 0.86 -0.25
0.78 0.86 -0.13
0.86 0.86 0
0.94 0.86 0.15
1.02 0.86 0.31
1.1 0.86 0.48
1.18 0.86 0.67
1.27 0.86 0.87
1.35 0.86 1.08
1.43 0.86 1.31
1.51 0.86 1.55
1.59 0.86 1.8
1.67 0.86 2.07
1.76 0.86 2.35
1.84 0.86 2.64
1.92 0.86 2.95
2 0.86 3.27
-2 0.94 3.12
-1.92 0.94 2.8
-1.84 0.94 2.49
-1.76 0.94 2.2
-1.67 0.94 1.92
-1.59 0.94 1.65
-1.51 0.94 1.4
-1.43 0.94 1.16
-1.35 0.94 0.93
-1.27 0.94 0.72
-1.18 0.94 0.52
-1.1 0.94 0.33
-1.02 0.94 0.16
-0.94 0.94 0
-0.86 0.94 -0.15
-0.78 0.94 -0.28
-0.69 0.94 -0.4
-0.61 0.94 -0.51
-0.53 0.94 -0.6
-0.45 0.94 -0.68
-0.37 0.94 -0.75
-0.29 0.94 -0.8
-0.2 0.94 -0.84
-0.12 0.94 -0.87
-0.04 0.94 -0.88
0.04 0.94 -0.88
0.12 0.94 -0.87
0.2 0.94 -0.84
0.29 0.94 -0.8
0.37 0.94 -0.75
0.45 0.94 -0.68
0.53 0.94 -0.6
0.61 0.94 -0.51
0.69 0.94 -0.4
0.78 0.94 -0.28
0.86 0.94 -0.15
0.94 0.94 0
1.02 0.94 0.16
1.1 0.94 0.33
1.18 0.94 0.52
1.27 0.94 0.72
1.35 0.94 0.93
1.43 0.94 1.16
1.51 0.94 1.4
1.59 0.94 1.65
1.67 0.94 1.92
1.76 0.94 2.2
1.84 0.94 2.49
1.92 0.94 2.8
2 0.94 3.12
-2 1.02 2.96
-1.92 1.02 2.64
-1.84 1.02 2.33
-1.76 1.02 2.04
-1.67 1.02 1.76
-1.59 1.02 1.49
-1.51 1.02 1.24
-1.43 1.02 1
-1.35 1.02 0.77
-1.27 1.02 0.56
-1.18 1.02 0.36
-1.1 1.02 0.17
-1.02 1.02 0
-0.94 1.02 -0.16
-0.86 1.02 -0.31
-0.78 1.02 -0.44
-0.69 1.02 -0.56
-0.61 1.02 -0.67
-0.53 1.02 -0.76
-0.45 1.02 -0.84
-0.37 1.02 -0.91
-0.29 1.02 -0.96
-0.2 1.02 -1
-0.12 1.02 -1.03
-0.04 1.02 -1.04
0.04 1.02 -1.04
0.12 1.02 -1.03
0.2 1.02 -1
0.29 1.02 -0.96
0.37 1.02 -0.91
0.45 1.02 -0.84
0.53 1.02 -0.76
0.61 1.02 -0.67
0.69 1.02 -0.56
0.78 1.02 -0.44
0.86 1.02 -0.31
0.94 1.02 -0.16
1.02 1.02 0
1.1 1.02 0.17
1.18 1.02 0.36
1.27 1.02 0.56
1.35 1.02 0.77
1.43 1.02 1
1.51 1.02 1.24
1.59 1.02 1.49
1.67 1.02 1.76
1.76 1.02 2.04
1.84 1.02 2.33
1.92 1.02 2.64
2 1.02 2.96
-2 1.1 2.79
-1.92 1.1 2.47
-1.84 1.1 2.16
-1.76 1.1 1.87
-1.67 1.1 1.59
-1.59 1.1 1.32
-1.51 1.1 1.07
-1.43 1.1 0.83
-1.35 1.1 0.6
-1.27 1.1 0.39
-1.18 1.1 0.19
-1.1 1.1 0
-1.02 1.1 -0.17
-0.94 1.1 -0.33
-0.86 1.1 -0.48
-0.78 1.1 -0.61
-0.69 1.1 -0.73
-0.61 1.1 -0.84
-0.53 1.1 -0.93
-0.45 1.1 -1.01
-0.37 1.1 -1.08
-0.29 1.1 -1.13
-0.2 1.1 -1.17
-0.12 1.1 -1.2
-0.04 1.1 -1.21
0.04 1.1 -1.21
0.12 1.1 -1.2
0.2 1.1 -1.17
0.29 1.1 -1.13
0.37 1.1 -1.08
0.45 1.1 -1.01
0.53 1.1 -0.93
0.61 1.1 -0.84
0.69 1.1 -0.73
0.78 1.1 -0.61
0.86 1.1 -0.48
0.94 1.1 -0.33
1.02 1.1 -0.17
1.1 1.1 0
1.18 1.1 0.19
1.27 1.1 0.39
1.35 1.1 0.6
1.43 1.1 0.83
1.51 1.1 1.07
1.59 1.1 1.32
1.67 1.1 1.59
1.76 1.1 1.87
1.84 1.1 2.16
1.92 1.1 2.47
2 1.1 2.79
-2 1.18 2.6
-1.92 1.18 2.28
-1.84 1.18 1.97
-1.76 1.18 1.68
-1.67 1.18 1.4
-1.59 1.18 1.13
-1.51 1.18 0.88
-1.43 1.18 0.64
-1.35 1.18 0.41
-1.27 1.18 0.2
-1.18 1.18 0
-1.1 1.18 -0.19
-1.02 1.18 -0.36
-0.94 1.18 -0.52
-0.86 1.18 -0.67
-0.78 1.18 -0.8
-0.69 1.18 -0.92
-0.61 1.18 -1.03
-0.53 1.18 -1.12
-0.45 1.18 -1.2
-0.37 1.18 -1.27
-0.29 1.18 -1.32
-0.2 1.18 -1.36
-0.12 1.18 -1.39
-0.04 1.18 -1.4
0.04 1.18 -1.4
0.12 1.18 -1.39
0.2 1.18 -1.36
0.29 1.18 -1.32
0.37 1.18 -1.27
0.45 1.18 -1.2
0.53 1.18 -1.12
0.61 1.18 -1.03
0.69 1.18 -0.92
0.78 1.18 -0.8
0.86 1.18 -0.67
0.94 1.18 -0.52
1.02 1.18 -0.36
1.1 1.18 -0.19
1.18 1.18 0
1.27 1.18 0.2
1.35 1.18 0.41
1.43 1.18 0.64
1.51 1.18 0.88
1.59 1.18 1.13
1.67 1.18 1.4
1.76 1.18 1.68
1.84 1.18 1.97
1.92 1.18 2.28
2 1.18 2.6
-2 1.27 2.4
-1.92 1.27 2.08
-1.84 1.27 1.77
-1.76 1.27 1.48
-1.67 1.27 1.2
-1.59 1.27 0.93
-1.51 1.27 0.68
-1.43 1.27 0.44
-1.35 1.27 0.21
-1.27 1.27 0
-1.18 1.27 -0.2
-1.1 1.27 -0.39
-1.02 1.27 -0.56
-0.94 1.27 -0.72
-0.86 1.27 -0.87
-0.78 1.27 -1
-0.69 1.27 -1.12
-0.61 1.27 -1.23
-0.53 1.27 -1.32
-0.45 1.27 -1.4
-0.37 1.27 -1.47
-0.29 1.27 -1.52
-0.2 1.27 -1.56
-0.12 1.27 -1.59
-0.04 1.27 -1.6
0.04 1.27 -1.6
0.12 1.27 -1.59
0.2 1.27 -1.56
0.29 1.27 -1.52
0.37 1.27 -1.47
0.45 1.27 -1.4
0.53 1.27 -1.32
0.61 1.27 -1.23
0.69 1.27 -1.12
0.78 1.27 -1
0.86 1.27 -0.87
0.94 1.27 -0.72
1.02 1.27 -0.56
1.1 1.27 -0.39
1.18 1.27 -0.2
1.27 1.27 0
1.35 1.27 0.21
1.43 1.27 0.44
1.51 1.27 0.68
1.59 1.27 0.93
1.67 1.27 1.2
1.76 1.27 1.48
1.84 1.27 1.77
1.92 1.27 2.08
2 1.27 2.4
-2 1.35 2.19
-1.92 1.35 1.87
-1.84 1.35 1.56
-1.76 1.35 1.27
-1.67 1.35 0.99
-1.59 1.35 0.72
-1.51 1.35 0.47
-1.43 1.35 0.23
-1.35 1.35 0
-1.27 1.35 -0.21
-1.18 1.35 -0.41
-1.1 1.35 -0.6
-1.02 1.35 -0.77
-0.94 1.35 -0.93
-0.86 1.35 -1.08
-0.78 1.35 -1.21
-0.69 1.35 -1.33
-0.61 1.35 -1.44
-0.53 1.35 -1.53
-0.45 1.35 -1.61
-0.37 1.35 -1.68
-0.29 1.35 -1.73
-0.2 1.35 -1.77
-0.12 1.35 -1.8
-0.04 1.35 -1.81
0.04 1.35 -1.81
0.12 1.35 -1.8
0.2 1.35 -1.77
0.29 1.35 -1.73
0.37 1.35 -1.68
0.45 1.35 -1.61
0.53 1.35 -1.53
0.61 1.35 -1.44
0.69 1.35 -1.33
0.78 1.35 -1.21
0.86 1.35 -1.08
0.94 1.35 -0.93
1.02 1.35 -0.77
1.1 1.35 -0.6
1.18 1.35 -0.41
1.27 1.35 -0.21
1.35 1.35 0
1.43 1.35 0.23
1.51 1.35 0.47
1.59 1.35 0.72
1.67 1.35 0.99
1.76 1.35 1.27
1.84 1.35 1.56
1.92 1.35 1.87
2 1.35 2.19
-2 1.43 1.96
-1.92 1.43 1.64
-1.84 1.43 1.33
-1.76 1.43 1.04
-1.67 1.43 0.76
-1.59 1.43 0.49
-1.51 1.43 0.24
-1.43 1.43 0
-1.35 1.43 -0.23
-1.27 1.43 -0.44
-1.18 1.43 -0.64
-1.1 1.43 -0.83
-1.02 1.43 -1
-0.94 1.43 -1.16
-0.86 1.43 -1.31
-0.78 1.43 -1.44
-0.69 1.43 -1.56
-0.61 1.43 -1.67
-0.53 1.43 -1.76
-0.45 1.43 -1.84
-0.37 1.43 -1.91
-0.29 1.43 -1.96
-0.2 1.43 -2
-0.12 1.43 -2.03
-0.04 1.43 -2.04
0.04 1.43 -2.04
0.12 1.43 -2.03
0.2 1.43 -2
0.29 1.43 -1.96
0.37 1.43 -1.91
0.45 1.43 -1.84
0.53 1.43 -1.76
0.61 1.43 -1.67
0.69 1.43 -1.56
0.78 1.43 -1.44
0.86 1.43 -1.31
0.94 1.43 -1.16
1.02 1.43 -1
1.1 1.43 -0.83
1.18 1.43 -0.64
1.27 1.43 -0.44
1.35 1.43 -0.23
1.43 1.43 0
1.51 1.43 0.24
1.59 1.43 0.49
1.67 1.43 0.76
1.76 1.43 1.04
1.84 1.43 1.33
1.92 1.43 1.64
2 1.43 1.96
-2 1.51 1.72
-1.92 1.51 1.4
-1.84 1.51 1.09
-1.76 1.51 0.8
-1.67 1.51 0.52
-1.59 1.51 0.25
-1.51 1.51 0
-1.43 1.51 -0.24
-1.35 1.51 -0.47
-1.27 1.51 -0.68
-1.18 1.51 -0.88
-1.1 1.51 -1.07
-1.02 1.51 -1.24
-0.94 1.51 -1.4
-0.86 1.51 -1.55
-0.78 1.51 -1.68
-0.69 1.51 -1.8
-0.61 1.51 -1.91
-0.53 1.51 -2
-0.45 1.51 -2.08
-0.37 1.51 -2.15
-0.29 1.51 -2.2
-0.2 1.51 -2.24
-0.12 1.51 -2.27
-0.04 1.51 -2.28
0.04 1.51 -2.28
0.12 1.51 -2.27
0.2 1.51 -2.24
0.29 1.51 -2.2
0.37 1.51 -2.15
0.45 1.51 -2.08
0.53 1.51 -2
0.61 1.51 -1.91
0.69 1.51 -1.8
0.78 1.51 -1.68
0.86 1.51 -1.55
0.94 1.51 -1.4
1.02 1.51 -1.24
1.1 1.51 -1.07
1.18 1.51 -0.88
1.27 1.51 -0.68
1.35 1.51 -0.47
1.43 1.51 -0.24
1.51 1.51 0
1.59 1.51 0.25
1.67 1.51 0.52
1.76 1.51 0.8
1.84 1.51 1.09
1.92 1.51 1.4
2 1.51 1.72
-2 1.59 1.47
-1.92 1.59 1.15
-1.84 1.59 0.84
-1.76 1.59 0.55
-1.67 1.59 0.27
-1.59 1.59 0
-1.51 1.59 -0.25
-1.43 1.59 -0.49
-1.35 1.59 -0.72
-1.27 1.59 -0.93
-1.18 1.59 -1.13
-1.1 1.59 -1.32
-1.02 1.59 -1.49
-0.94 1.59 -1.65
-0.86 1.59 -1.8
-0.78 1.59 -1.93
-0.69 1.59 -2.05
-0.61 1.59 -2.16
-0.53 1.59 -2.25
-0.45 1.59 -2.33
-0.37 1.59 -2.4
-0.29 1.59 -2.45
-0.2 1.59 -2.49
-0.12 1.59 -2.52
-0.04 1.59 -2.53
0.04 1.59 -2.53
0.12 1.59 -2.52
0.2 1.59 -2.49
0.29 1.59 -2.45
0.37 1.59 -2.4
0.45 1.59 -2.33
0.53 1.59 -2.25
0.61 1.59 -2.16
0.69 1.59 -2.05
0.78 1.59 -1.93
0.86 1.59 -1.8
0.94 1.59 -1.65
1.02 1.59 -1.49
1.1 1.59 -1.32
1.18 1.59 -1.13
1.27 1.59 -0.93
1.35 1.59 -0.72
1.43 1.59 -0.49
1.51 1.59 -0.25
1.59 1.59 0
1.67 1.59 0.27
1.76 1.59 0.55
1.84 1.59 0.84
1.92 1.59 1.15
2 1.59 1.47
-2 1.67 1.2
-1.92 1.67 0.88
-1.84 1.67 0.57
-1.76 1.67 0.28
-1.67 1.67 0
-1.59 1.67 -0.27
-1.51 1.67 -0.52
-1.43 1.67 -0.76
-1.35 1.67 -0.99
-1.27 1.67 -1.2
-1.18 1.67 -1.4
-1.1 1.67 -1.59
-1.02 1.67 -1.76
-0.94 1.67 -1.92
-0.86 1.67 -2.07
-0.78 1.67 -2.2
-0.69 1.67 -2.32
-0.61 1.67 -2.43
-0.53 1.67 -2.52
-0.45 1.67 -2.6
-0.37 1.67 -2.67
-0.29 1.67 -2.72
-0.2 1.67 -2.76
-0.12 1.67 -2.79
-0.04 1.67 -2.8
0.04 1.67 -2.8
0.12 1.67 -2.79
0.2 1.67 -2.76
0.29 1.67 -2.72
0.37 1.67 -2.67
0.45 1.67 -2.6
0.53 1.67 -2.52
0.61 1.67 -2.43
0.69 1.67 -2.32
0.78 1.67 -2.2
0.86 1.67 -2.07
0.94 1.67 -1.92
1.02 1.67 -1.76
1.1 1.67 -1.59
1.18 1.67 -1.4
1.27 1.67 -1.2
1.35 1.67 -0.99
1.43 1.67 -0.76
1.51 1.67 -0.52
1.59 1.67 -0.27
1.67 1.67 0
1.76 1.67 0.28
1.84 1.67 0.57
1.92 1.67 0.88
2 1.67 1.2
-2 1.76 0.92
-1.92 1.76 0.6
-1.84 1.76 0.29
-1.76 1.76 0
-1.67 1.76 -0.28
-1.59 1.76 -0.55
-1.51 1.76 -0.8
-1.43 1.76 -1.04
-1.35 1.76 -1.27
-1.27 1.76 -1.48
-1.18 1.76 -1.68
-1.1 1.76 -1.87
-1.02 1.76 -2.04
-0.94 1.76 -2.2
-0.86 1.76 -2.35
-0.78 1.76 -2.48
-0.69 1.76 -2.6
-0.61 1.76 -2.71
-0.53 1.76 -2.8
-0.45 1.76 -2.88
-0.37 1.76 -2.95
-0.29 1.76 -3
-0.2 1.76 -3.04
-0.12 1.76 -3.07
-0.04 1.76 -3.08
0.04 1.76 -3.08
0.12 1.76 -3.07
0.2 1.76 -3.04
0.29 1.76 -3
0.37 1.76 -2.95
0.45 1.76 -2.88
0.53 1.76 -2.8
0.61 1.76 -2.71
0.69 1.76 -2.6
0.78 1.76 -2.48
0.86 1.76 -2.35
0.94 1.76 -2.2
1.02 1.76 -2.04
1.1 1.76 -1.87
1.18 1.76 -1.68
1.27 1.76 -1.48
1.35 1.76 -1.27
1.43 1.76 -1.04
1.51 1.76 -0.8
1.59 1.76 -0.55
1.67 1.76 -0.28
1.76 1.76 0
1.84 1.76 0.29
1.92 1.76 0.6
2 1.76 0.92
-2 1.84 0.63
-1.92 1.84 0.31
-1.84 1.84 0
-1.76 1.84 -0.29
-1.67 1.84 -0.57
-1.59 1.84 -0.84
-1.51 1.84 -1.09
-1.43 1.84 -1.33
-1.35 1.84 -1.56
-1.27 1.84 -1.77
-1.18 1.84 -1.97
-1.1 1.84 -2.16
-1.02 1.84 -2.33
-0.94 1.84 -2.49
-0.86 1.84 -2.64
-0.78 1.84 -2.77
-0.69 1.84 -2.89
-0.61 1.84 -3
-0.53 1.84 -3.09
-0.45 1.84 -3.17
-0.37 1.84 -3.24
-0.29 1.84 -3.29
-0.2 1.84 -3.33
-0.12 1.84 -3.36
-0.04 1.84 -3.37
0.04 1.84 -3.37
0.12 1.84 -3.36
0.2 1.84 -3.33
0.29 1.84 -3.29
0.37 1.84 -3.24
0.45 1.84 -3.17
0.53 1.84 -3.09
0.61 1.84 -3
0.69 1.84 -2.89
0.78 1.84 -2.77
0.86 1.84 -2.64
0.94 1.84 -2.49
1.02 1.84 -2.33
1.1 1.84 -2.16
1.18 1.84 -1.97
1.27 1.84 -1.77
1.35 1.84 -1.56
1.43 1.84 -1.33
1.51 1.84 -1.09
1.59 1.84 -0.84
1.67 1.84 -0.57
1.76 1.84 -0.29
1.84 1.84 0
1.92 1.84 0.31
2 1.84 0.63
-2 1.92 0.32
-1.92 1.92 0
-1.84 1.92 -0.31
-1.76 1.92 -0.6
-1.67 1.92 -0.88
-1.59 1.92 -1.15
-1.51 1.92 -1.4
-1.43 1.92 -1.64
-1.35 1.92 -1.87
-1.27 1.92 -2.08
-1.18 1.92 -2.28
-1.1 1.92 -2.47
-1.02 1.92 -2.64
-0.94 1.92 -2.8
-0.86 1.92 -2.95
-0.78 1.92 -3.08
-0.69 1.92 -3.2
-0.61 1.92 -3.31
-0.53 1.92 -3.4
-0.45 1.92 -3.48
-0.37 1.92 -3.55
-0.29 1.92 -3.6
-0.2 1.92 -3.64
-0.12 1.92 -3.67
-0.04 1.92 -3.68
0.04 1.92 -3.68
0.12 1.92 -3.67
0.2 1.92 -3.64
0.29 1.92 -3.6
0.37 1.92 -3.55
0.45 1.92 -3.48
0.53 1.92 -3.4
0.61 1.92 -3.31
0.69 1.92 -3.2
0.78 1.92 -3.08
0.86 1.92 -2.95
0.94 1.92 -2.8
1.02 1.92 -2.64
1.1 1.92 -2.47
1.18 1.92 -2.28
1.27 1.92 -2.08
1.35 1.92 -1.87
1.43 1.92 -1.64
1.51 1.92 -1.4
1.59 1.92 -1.15
1.67 1.92 -0.88
1.76 1.92 -0.6
1.84 1.92 -0.31
1.92 1.92 0
2 1.92 0.32
-2 2 0
-1.92 2 -0.32
-1.84 2 -0.63
-1.76 2 -0.92
-1.67 2 -1.2
-1.59 2 -1.47
-1.51 2 -1.72
-1.43 2 -1.96
-1.35 2 -2.19
-1.27 2 -2.4
-1.18 2 -2.6
-1.1 2 -2.79
-1.02 2 -2.96
-0.94 2 -3.12
-0.86 2 -3.27
-0.78 2 -3.4
-0.69 2 -3.52
-0.61 2 -3.63
-0.53 2 -3.72
-0.45 2 -3.8
-0.37 2 -3.87
-0.29 2 -3.92
-0.2 2 -3.96
-0.12 2 -3.99
-0.04 2 -4
0.04 2 -4
0.12 2 -3.99
0.2 2 -3.96
0.29 2 -3.92
0.37 2 -3.87
0.45 2 -3.8
0.53 2 -3.72
0.61 2 -3.63
0.69 2 -3.52
0.78 2 -3.4
0.86 2 -3.27
0.94 2 -3.12
1.02 2 -2.96
1.1 2 -2.79
1.18 2 -2.6
1.27 2 -2.4
1.35 2 -2.19
1.43 2 -1.96
1.51 2 -1.72
1.59 2 -1.47
1.67 2 -1.2
1.76 2 -0.92
1.84 2 -0.63
1.92 2 -0.32
2 2 0
}\fine
\pgfplotsset{
  saddle/.style={
    scale only axis, width=194.5pt, height=161.5pt,
    colormap/hot,
    xtick={-2,-1,0,1,2}, xticklabels={−2,−1,0,1,2},
    ytick={-2,0,2}, yticklabels={−2,0,2},
    ztick={-4,-2,0,2,4}, zticklabels={−4,−2,0,2,4},
    tick label style={font=\fontsize{10.4}{12}\selectfont},
  }
}
\begin{document}
\begin{tikzpicture}
\path[use as bounding box] (0,0) rectangle (454.5pt,178pt);
\begin{axis}[saddle, at={(19pt,16.5pt)}]
\addplot3[surf, mesh/cols=10] table[x=x,y=y,z=z] {\coarse};
\end{axis}
\begin{axis}[saddle, at={(246pt,16.5pt)}]
\addplot3[surf, mesh/cols=50] table[x=x,y=y,z=z] {\fine};
\end{axis}
\end{tikzpicture}
\end{document}
